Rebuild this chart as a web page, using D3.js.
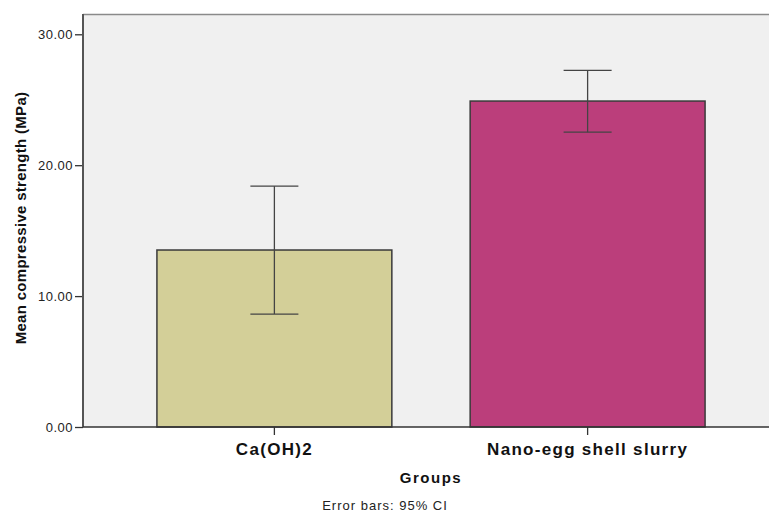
<!DOCTYPE html>
<html>
<head>
<meta charset="utf-8">
<script src="https://cdn.jsdelivr.net/npm/d3@7"></script>
<style>
  body { margin: 0; background: #fff; }
  svg { display: block; font-family: "Liberation Sans", Arial, sans-serif; }
</style>
</head>
<body>
<svg id="chart" width="769" height="514"></svg>
<script>
// chart data
var groups = ["Ca(OH)2", "Nano-egg shell slurry"];
var means = [13.52, 24.90];
var ciLow = [8.63, 22.52];
var ciHigh = [18.40, 27.25];
var barColors = ["#d3cf98", "#bb3e7b"];
var yTicks = [0, 10, 20, 30];

var svg = d3.select('#chart');

// plot box (note: window.top is read-only, so use other names)
var plotL = 83, plotT = 14, plotB = 427, plotR = 779;

var x = d3.scaleBand()
    .domain(groups)
    .range([plotL, plotR])
    .paddingInner(0.25)
    .paddingOuter(0.236);

var y = d3.scaleLinear()
    .domain([0, 31.55])
    .range([plotB, plotT]);

// plot background
svg.append('rect')
    .attr('x', plotL).attr('y', plotT)
    .attr('width', plotR - plotL).attr('height', plotB - plotT)
    .attr('fill', '#f0f0f0');

// top frame line
svg.append('line')
    .attr('x1', plotL).attr('x2', plotR)
    .attr('y1', plotT + 0.5).attr('y2', plotT + 0.5)
    .attr('stroke', '#8a8a8a').attr('stroke-width', 1.5);

// bars
svg.selectAll('rect.bar')
    .data(groups)
    .enter()
    .append('rect')
    .attr('class', 'bar')
    .attr('x', d => x(d))
    .attr('y', (d, i) => y(means[i]))
    .attr('width', x.bandwidth())
    .attr('height', (d, i) => y(0) - y(means[i]))
    .attr('fill', (d, i) => barColors[i])
    .attr('stroke', '#3a3a3a')
    .attr('stroke-width', 1.5);

// error bars
var cap = 24;
var eb = svg.selectAll('g.err')
    .data(groups)
    .enter()
    .append('g')
    .attr('class', 'err')
    .attr('stroke', '#444')
    .attr('stroke-width', 1.3);

eb.append('line')
    .attr('x1', d => x(d) + x.bandwidth() / 2)
    .attr('x2', d => x(d) + x.bandwidth() / 2)
    .attr('y1', (d, i) => y(ciLow[i]))
    .attr('y2', (d, i) => y(ciHigh[i]));
eb.append('line')
    .attr('x1', d => x(d) + x.bandwidth() / 2 - cap)
    .attr('x2', d => x(d) + x.bandwidth() / 2 + cap)
    .attr('y1', (d, i) => y(ciHigh[i]))
    .attr('y2', (d, i) => y(ciHigh[i]));
eb.append('line')
    .attr('x1', d => x(d) + x.bandwidth() / 2 - cap)
    .attr('x2', d => x(d) + x.bandwidth() / 2 + cap)
    .attr('y1', (d, i) => y(ciLow[i]))
    .attr('y2', (d, i) => y(ciLow[i]));

// y axis
var yAxis = svg.append('g')
    .attr('transform', 'translate(' + plotL + ',0)')
    .call(d3.axisLeft(y).tickValues(yTicks).tickFormat(d3.format('.2f')).tickSizeOuter(0).tickSize(8));
yAxis.select('.domain').remove();
yAxis.selectAll('.tick line').attr('stroke', '#333').attr('stroke-width', 1.3);
yAxis.selectAll('.tick text')
    .attr('font-size', 13).attr('fill', '#222')
    .attr('letter-spacing', 0.5)
    .attr('font-family', '"Liberation Sans", Arial, sans-serif')
    .attr('x', -10);

svg.append('line')
    .attr('x1', plotL).attr('x2', plotL)
    .attr('y1', plotT).attr('y2', plotB)
    .attr('stroke', '#555').attr('stroke-width', 2);

// x axis
var xAxis = svg.append('g')
    .attr('transform', 'translate(0,' + plotB + ')')
    .call(d3.axisBottom(x).tickSizeOuter(0).tickSize(8));
xAxis.select('.domain').remove();
xAxis.selectAll('.tick line').attr('stroke', '#333').attr('stroke-width', 1.3);
xAxis.selectAll('.tick text')
    .attr('font-size', 17).attr('font-weight', 'bold').attr('fill', '#111')
    .attr('letter-spacing', 1.3)
    .attr('font-family', '"Liberation Sans", Arial, sans-serif')
    .attr('dy', null)
    .attr('y', 28);

svg.append('line')
    .attr('x1', plotL).attr('x2', plotR)
    .attr('y1', plotB).attr('y2', plotB)
    .attr('stroke', '#333').attr('stroke-width', 1.5);

// titles
svg.append('text')
    .attr('transform', 'translate(26,218) rotate(-90)')
    .attr('text-anchor', 'middle')
    .attr('font-size', 15).attr('font-weight', 'bold')
    .attr('letter-spacing', 0.3)
    .attr('font-family', '"Liberation Sans Narrow", "Liberation Sans", Arial, sans-serif')
    .attr('fill', '#111')
    .text('Mean compressive strength (MPa)');

svg.append('text')
    .attr('x', 431).attr('y', 483)
    .attr('text-anchor', 'middle')
    .attr('font-size', 15).attr('font-weight', 'bold')
    .attr('letter-spacing', 1.5)
    .attr('fill', '#111')
    .text('Groups');

svg.append('text')
    .attr('x', 385).attr('y', 510)
    .attr('text-anchor', 'middle')
    .attr('font-size', 13)
    .attr('letter-spacing', 1)
    .attr('fill', '#222')
    .text('Error bars: 95% CI');
</script>
</body>
</html>
